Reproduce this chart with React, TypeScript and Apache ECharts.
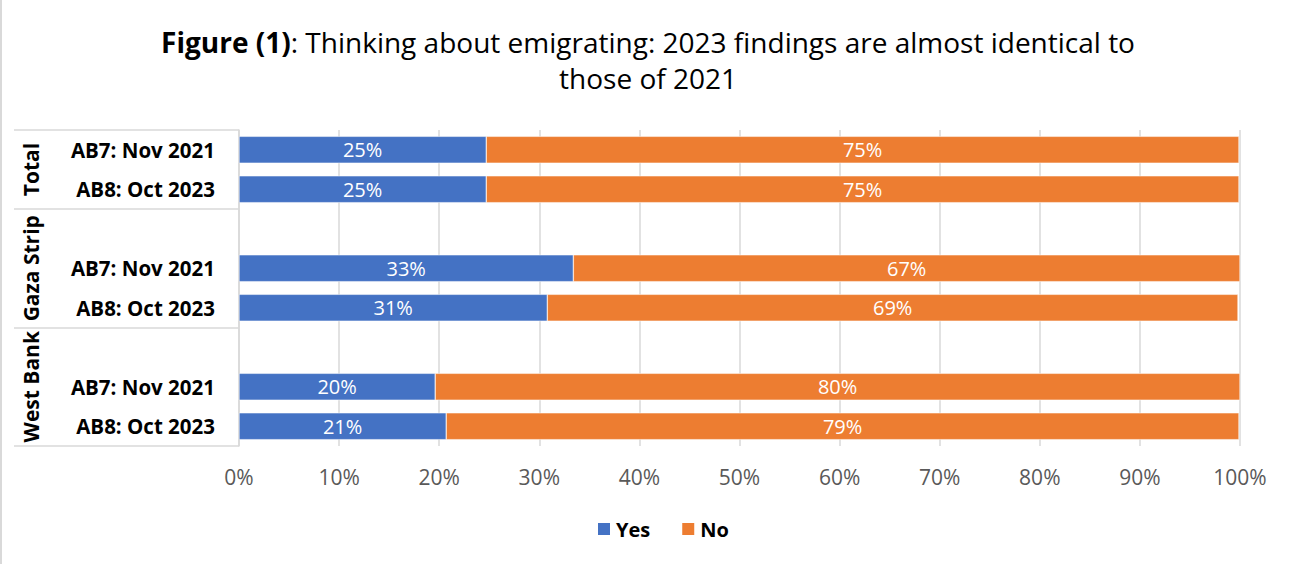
import React, { useEffect, useRef } from 'react';
import * as echarts from 'echarts';

// ---- data ----
const categories = [
  'AB7: Nov 2021',
  'AB8: Oct 2023',
  '',
  'AB7: Nov 2021',
  'AB8: Oct 2023',
  '',
  'AB7: Nov 2021',
  'AB8: Oct 2023',
];
const yesValues = [24.7, 24.7, null, 33.4, 30.8, null, 19.6, 20.7];
const noValues = [75.2, 75.2, null, 66.6, 69.0, null, 80.4, 79.2];
const groupNames = ['Total', 'Gaza Strip', 'West Bank'];
const groupCenters = [1, 3.5, 6.5];
const groupBounds = [0, 2, 5, 8];
const seriesNames = ['Yes', 'No'];
const titleMain = 'Figure (1)';
const titleRest = ': Thinking about emigrating: 2023 findings are almost identical to';
const titleLine2 = 'those of 2021';

const FONT = '"Open Sans", "Noto Sans", sans-serif';
const GRID_COLOR = '#d9d9d9';

export default function App() {
  const ref = useRef<HTMLDivElement>(null);

  useEffect(() => {
    document.body.style.margin = '0';
    if (!ref.current) return;
    const chart = echarts.init(ref.current, null, { renderer: 'svg' });
    const fmt = (p: any) => (p.value == null ? '' : Math.round(p.value) + '%');
    chart.setOption({
      animation: false,
      backgroundColor: '#fff',
      textStyle: { fontFamily: FONT },
      title: {
        text: `{b|${titleMain}}${titleRest}\n${titleLine2}`,
        left: 'center',
        top: 24,
        padding: 0,
        textStyle: {
          fontFamily: FONT,
          fontSize: 28,
          fontWeight: 'normal',
          color: '#000',
          lineHeight: 36,
          rich: {
            b: { fontFamily: FONT, fontSize: 28, fontWeight: 'bold', color: '#000', lineHeight: 36 },
          },
        },
      },
      legend: {
        data: seriesNames,
        bottom: 20,
        left: 591,
        icon: 'rect',
        itemWidth: 14,
        itemHeight: 14,
        itemGap: 30,
        textStyle: { fontFamily: FONT, fontSize: 20, fontWeight: 'bold', color: '#000', padding: [0, 0, 0, 0] },
      },
      grid: {
        left: 239,
        right: 56,
        top: 130,
        bottom: 118,
        containLabel: false,
        outerBoundsMode: 'none',
      },
      xAxis: {
        type: 'value',
        min: 0,
        max: 100,
        interval: 10,
        axisLine: { show: false },
        axisTick: { show: false },
        splitLine: { show: true, lineStyle: { color: GRID_COLOR, width: 1.5 } },
        axisLabel: {
          formatter: '{value}%',
          color: '#595959',
          fontSize: 21,
          fontFamily: FONT,
          margin: 20,
        },
      },
      yAxis: [
        {
          type: 'category',
          data: categories,
          inverse: true,
          axisLine: { show: true, lineStyle: { color: GRID_COLOR, width: 1.5 } },
          axisTick: { show: false },
          axisLabel: {
            fontFamily: FONT,
            fontSize: 20.5,
            fontWeight: 'bold',
            color: '#000',
            margin: 24,
          },
        },
        {
          type: 'value',
          position: 'left',
          min: 0,
          max: 8,
          inverse: true,
          axisLine: { show: false },
          splitLine: { show: false },
          axisTick: {
            show: true,
            customValues: groupBounds,
            length: 225,
            lineStyle: { color: GRID_COLOR, width: 1.5 },
          },
          axisLabel: {
            show: true,
            customValues: groupCenters,
            formatter: (v: number) => {
              const i = groupCenters.indexOf(v);
              return i >= 0 ? groupNames[i] : '';
            },
            rotate: 90,
            fontFamily: FONT,
            fontSize: 21,
            fontWeight: 'bold',
            color: '#000',
            margin: 198,
          },
        },
      ],
      graphic: [
        {
          type: 'line',
          shape: { x1: 1, y1: 0, x2: 1, y2: 564 },
          style: { stroke: GRID_COLOR, lineWidth: 2 },
        },
      ],
      series: [
        {
          name: seriesNames[0],
          type: 'bar',
          stack: 'total',
          data: yesValues,
          barWidth: '68%',
          itemStyle: { color: '#4472C4', borderColor: '#fff', borderWidth: 0.5 },
          label: { show: true, position: 'inside', color: '#fff', fontSize: 20, fontFamily: FONT, formatter: fmt },
        },
        {
          name: seriesNames[1],
          type: 'bar',
          stack: 'total',
          data: noValues,
          barWidth: '68%',
          itemStyle: { color: '#ED7D31', borderColor: '#fff', borderWidth: 0.5 },
          label: { show: true, position: 'inside', color: '#fff', fontSize: 20, fontFamily: FONT, formatter: fmt },
        },
      ],
    });
    return () => chart.dispose();
  }, []);

  return <div ref={ref} style={{ width: 1296, height: 564 }} />;
}
